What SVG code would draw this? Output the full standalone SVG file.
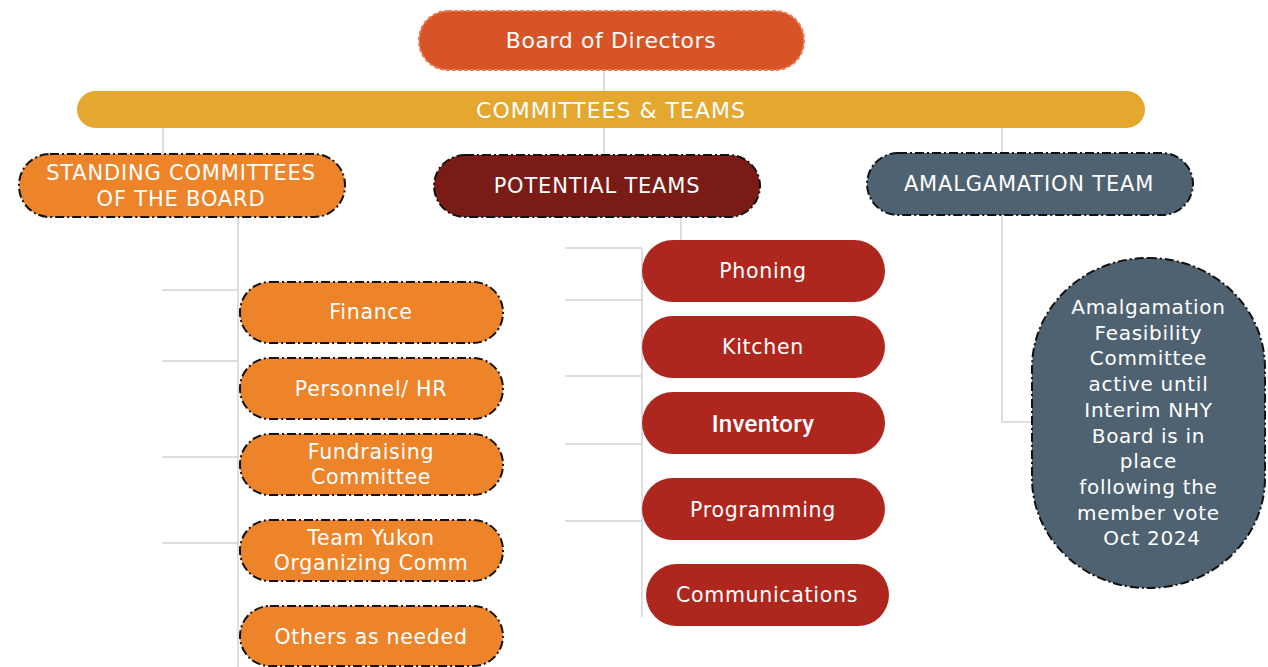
<svg xmlns="http://www.w3.org/2000/svg" width="1268" height="667" viewBox="0 0 1268 667">
<style>
.t{font-family:"DejaVu Sans","Liberation Sans",sans-serif;fill:#FFFFFF;text-anchor:middle;dominant-baseline:central}
.b{font-size:22px;letter-spacing:0.6px}
.h{font-size:22px;letter-spacing:1px}
.k{font-size:21px;letter-spacing:0.8px}
.s{font-size:20.5px;letter-spacing:0.7px}
.e{font-size:20px;letter-spacing:0.7px}
.dd{stroke:#111111;stroke-width:2;stroke-dasharray:9 3 2 3}
.ln{stroke:#D3D3D3;stroke-width:1.5;fill:none}
</style>
<rect width="1268" height="667" fill="#FFFFFF"/>
<g id="connectors">
<path class="ln" d="M604 70V91M163 128V153M604 128V155M1002 128V153"/>
<path class="ln" d="M238 217V667M162 290H238M162 361H238M162 457H238M162 543H238"/>
<path class="ln" d="M681 217V240M642 248V617M565 248H642M565 300H642M565 376H642M565 444H642M565 521H642"/>
<path class="ln" d="M1002 215V422H1034"/>
</g>
<g id="board">
<rect x="419" y="11" width="385" height="59" rx="29" fill="#D75426" stroke="#EE7A55" stroke-width="2" stroke-dasharray="4 2"/>
<text class="t b" x="611" y="40">Board of Directors</text>
</g>
<g id="committees-teams">
<rect x="77" y="91" width="1068" height="37" rx="18.5" fill="#E4A730"/>
<text class="t h" x="611" y="110">COMMITTEES &amp; TEAMS</text>
</g>
<g id="standing">
<rect x="19" y="154" width="326" height="63" rx="31" fill="#EE842A" class="dd"/>
<text class="t k" x="181" y="173">STANDING COMMITTEES</text>
<text class="t k" x="181" y="199">OF THE BOARD</text>
</g>
<g id="potential">
<rect x="434" y="155" width="326" height="62" rx="31" fill="#7A1C15" class="dd"/>
<text class="t k" x="597" y="186">POTENTIAL TEAMS</text>
</g>
<g id="amalgamation-team">
<rect x="867" y="153" width="326" height="62" rx="31" fill="#4E6271" class="dd"/>
<text class="t k" x="1029" y="184">AMALGAMATION TEAM</text>
</g>
<g id="finance">
<rect x="240" y="282" width="263" height="61" rx="30" fill="#EE842A" class="dd"/>
<text class="t s" x="371" y="312">Finance</text>
</g>
<g id="personnel">
<rect x="240" y="358" width="263" height="61" rx="30" fill="#EE842A" class="dd"/>
<text class="t s" x="371" y="389">Personnel/ HR</text>
</g>
<g id="fundraising">
<rect x="240" y="434" width="263" height="61" rx="30" fill="#EE842A" class="dd"/>
<text class="t s" x="371" y="452">Fundraising</text>
<text class="t s" x="371" y="477">Committee</text>
</g>
<g id="team-yukon">
<rect x="240" y="520" width="263" height="61" rx="30" fill="#EE842A" class="dd"/>
<text class="t s" x="371" y="538">Team Yukon</text>
<text class="t s" x="371" y="563">Organizing Comm</text>
</g>
<g id="others">
<rect x="240" y="606" width="263" height="60" rx="30" fill="#EE842A" class="dd"/>
<text class="t s" x="371" y="637">Others as needed</text>
</g>
<g id="phoning">
<rect x="642" y="240" width="243" height="62" rx="31" fill="#AE271F"/>
<text class="t s" x="763" y="271">Phoning</text>
</g>
<g id="kitchen">
<rect x="642" y="316" width="243" height="62" rx="31" fill="#AE271F"/>
<text class="t s" x="763" y="347">Kitchen</text>
</g>
<g id="inventory">
<rect x="642" y="392" width="243" height="62" rx="31" fill="#AE271F"/>
<text class="t" x="763" y="424" style="font-family:Roboto,'Liberation Sans',sans-serif;font-size:24px;font-weight:500;letter-spacing:0.3px">Inventory</text>
</g>
<g id="programming">
<rect x="642" y="478" width="243" height="62" rx="31" fill="#AE271F"/>
<text class="t s" x="763" y="510">Programming</text>
</g>
<g id="communications">
<rect x="646" y="564" width="243" height="62" rx="31" fill="#AE271F"/>
<text class="t s" x="767" y="595">Communications</text>
</g>
<g id="feasibility">
<rect x="1032" y="258" width="233" height="330" rx="116" ry="110" fill="#4E6271" class="dd"/>
<text class="t e" x="1152">
<tspan x="1152" y="307">Amalgamation</tspan>
<tspan x="1152" y="332.7">Feasibility</tspan>
<tspan x="1152" y="358.4">Committee</tspan>
<tspan x="1152" y="384.1">active until</tspan>
<tspan x="1152" y="409.8">Interim NHY</tspan>
<tspan x="1152" y="435.5">Board is in</tspan>
<tspan x="1152" y="461.2">place</tspan>
<tspan x="1152" y="486.9">following the</tspan>
<tspan x="1152" y="512.6">member vote</tspan>
<tspan x="1152" y="538.3">Oct 2024</tspan>
</text>
</g>
</svg>
